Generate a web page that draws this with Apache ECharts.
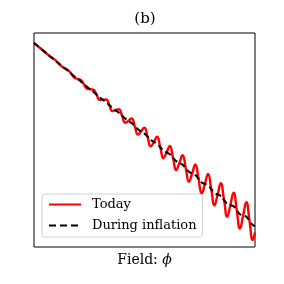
<!DOCTYPE html>
<html>
<head>
<meta charset="utf-8">
<script src="https://cdn.jsdelivr.net/npm/echarts@6/dist/echarts.min.js"></script>
<style>html,body{margin:0;padding:0;background:#fff}#c{width:284px;height:284px}</style>
</head>
<body>
<div id="c"></div>
<script>
var phi = [0, 1.95, 5.14, 8.33, 11.51, 14.70, 17.89, 21.08, 24.26, 27.45, 30.64, 33.83, 37.01, 40.20, 43.39, 46.58, 49.76, 52.95, 56.14, 59.33, 62.51, 65.70, 68.89, 72.08, 75.26, 78.45, 81.64, 84.83, 88.01, 91.20, 94.39, 97.58, 100.76, 103.95, 107.14, 110.33, 113.51, 116.70, 119.89, 123.08, 126.26, 129.45, 132.64, 135.83, 139.01, 142.20, 145.39, 148.58, 151.76, 154.95, 158.14, 161.33, 164.51, 167.70, 170.89, 174.08, 177.26, 180.45, 183.64, 186.83, 190.01, 193.20, 196.39, 199.58, 202.76, 205.95, 209.14, 212.33, 215.51, 218.70, 221];
var today = [204.0, 202.4, 199.8, 197.2, 194.5, 191.6, 189.2, 187.1, 184.0, 180.8, 178.7, 177.1, 173.5, 169.5, 168.2, 167.2, 163.0, 158.4, 157.7, 157.3, 152.4, 147.2, 147.2, 147.5, 141.9, 135.9, 136.7, 137.9, 131.4, 124.3, 126.1, 128.6, 120.9, 112.4, 115.6, 119.4, 110.4, 100.6, 105.1, 110.2, 99.8, 88.8, 94.6, 101.0, 89.3, 77.0, 84.1, 91.8, 78.8, 65.3, 73.5, 82.5, 68.3, 53.4, 63.0, 73.1, 57.8, 41.7, 52.5, 63.8, 47.2, 30.1, 42.0, 54.4, 36.7, 18.5, 31.5, 44.9, 26.2, 7.1, 14.6];
var inflation = [204.0, 202.4, 199.8, 197.1, 194.5, 191.8, 189.2, 186.6, 184.0, 181.3, 178.7, 176.2, 173.5, 170.7, 168.2, 165.7, 163.0, 160.2, 157.7, 155.2, 152.4, 149.6, 147.2, 144.8, 141.9, 139.0, 136.7, 134.3, 131.4, 128.4, 126.1, 123.9, 120.9, 117.8, 115.6, 113.5, 110.4, 107.1, 105.1, 103.1, 99.8, 96.5, 94.6, 92.7, 89.3, 85.9, 84.1, 82.3, 78.8, 75.2, 73.5, 71.9, 68.3, 64.6, 63.0, 61.5, 57.8, 53.9, 52.5, 51.1, 47.2, 43.3, 42.0, 40.7, 36.7, 32.7, 31.5, 30.3, 26.2, 22.1, 21.0];
var seriesNames = ['Today', 'During inflation'];
var titleText = '(b)';
var xLabel = 'Field: ';
var xSymbol = 'ϕ';

function pairs(ys) { return phi.map(function (x, i) { return [x, ys[i]]; }); }
var serif = '"DejaVu Serif", "Liberation Serif", serif';
var chart = echarts.init(document.getElementById('c'), null, { renderer: 'canvas' });
chart.setOption({
  animation: false,
  backgroundColor: '#fff',
  grid: { left: 34, top: 33, width: 221, height: 214, show: true, borderColor: '#000', borderWidth: 1, backgroundColor: 'transparent' },
  graphic: [{ type: 'text', x: 145, y: 19, style: { text: titleText, align: 'center', verticalAlign: 'middle', font: '15px ' + serif, fill: '#000' } }],
  xAxis: {
    type: 'value', min: 0, max: 221,
    axisLine: { show: false }, axisTick: { show: false }, axisLabel: { show: false }, splitLine: { show: false },
    name: '{a|' + xLabel + '}{b|' + xSymbol + '}', nameLocation: 'middle', nameGap: 6,
    nameTextStyle: { rich: { a: { fontFamily: serif, fontSize: 14, color: '#000' }, b: { fontFamily: serif, fontSize: 14, fontStyle: 'italic', color: '#000' } } }
  },
  yAxis: {
    type: 'value', min: 0, max: 214,
    axisLine: { show: false }, axisTick: { show: false }, axisLabel: { show: false }, splitLine: { show: false }
  },
  legend: {
    orient: 'vertical', left: 42, top: 194,
    backgroundColor: '#fff', borderColor: '#d0d0d0', borderWidth: 1, borderRadius: 3,
    padding: [4, 6, 5, 6], itemGap: 8, itemWidth: 32, itemHeight: 14,
    itemStyle: { opacity: 0, borderWidth: 0 },
    textStyle: { fontFamily: serif, fontSize: 13, color: '#000', padding: [0, 0, 0, 6] },
    data: [
      { name: seriesNames[0], lineStyle: { width: 2 } },
      { name: seriesNames[1], lineStyle: { width: 2, type: [7, 4] } }
    ]
  },
  series: [
    { name: seriesNames[0], type: 'line', data: pairs(today), smooth: 0.5, symbol: 'none', lineStyle: { color: '#ff0000', width: 2.4 }, itemStyle: { color: '#ff0000' } },
    { name: seriesNames[1], type: 'line', data: pairs(inflation), smooth: 0.5, symbol: 'none', lineStyle: { color: '#000', width: 2, type: [6, 3.5] }, itemStyle: { color: '#000' } }
  ]
});
</script>
</body>
</html>
